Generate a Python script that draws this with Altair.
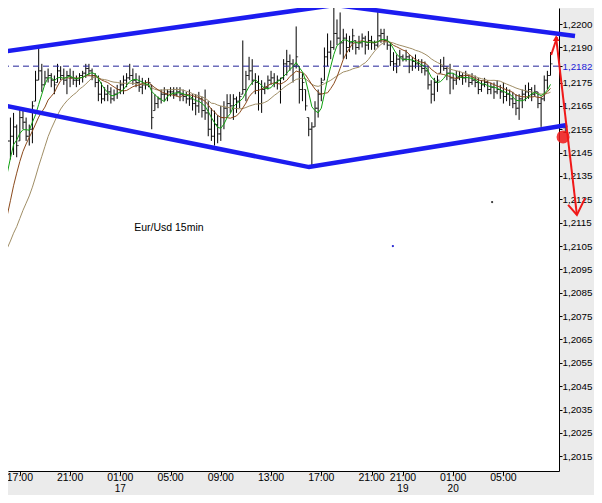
import altair as alt
import pandas as pd

# ---------------- data (EUR/USD, 15 min bars) ----------------
highs = [1.2140,1.2150,1.2162,1.2160,1.2162,1.2157,1.2164,1.2163,1.2160,1.2157,
         1.2167,1.2180,1.2190,1.2183,1.2180,1.2181,1.2179,1.2178,1.2183,1.2182,
         1.2181,1.2180,1.2181,1.2180,1.2178,1.2179,1.2180,1.2183,1.2183,1.2181,
         1.2179,1.2178,1.2175,1.2173,1.2174,1.2173,1.2172,1.2174,1.2176,1.2178,
         1.2179,1.2183,1.2181,1.2179,1.2178,1.2177,1.2176,1.2177,1.2174,1.2170,
         1.2169,1.2172,1.2173,1.2172,1.2173,1.2173,1.2173,1.2173,1.2172,1.2171,
         1.2172,1.2170,1.2170,1.2171,1.2169,1.2172,1.2167,1.2164,1.2163,1.2161,
         1.2165,1.2167,1.2170,1.2170,1.2170,1.2169,1.2171,1.2193,1.2180,1.2186,
         1.2185,1.2179,1.2178,1.2176,1.2175,1.2178,1.2180,1.2179,1.2178,1.2177,
         1.2185,1.2189,1.2187,1.2185,1.2199,1.2182,1.2179,1.2172,1.2160,1.2158,
         1.2167,1.2172,1.2177,1.2190,1.2196,1.2193,1.2207,1.2202,1.2205,1.2198,
         1.2196,1.2195,1.2198,1.2193,1.2195,1.2196,1.2195,1.2197,1.2195,1.2193,
         1.2206,1.2198,1.2198,1.2195,1.2192,1.2188,1.2187,1.2189,1.2187,1.2189,
         1.2187,1.2186,1.2187,1.2185,1.2185,1.2184,1.2182,1.2176,1.2177,1.2178,
         1.2185,1.2186,1.2182,1.2183,1.2179,1.2180,1.2180,1.2179,1.2180,1.2178,
         1.2179,1.2178,1.2177,1.2176,1.2177,1.2176,1.2175,1.2175,1.2176,1.2174,
         1.2175,1.2173,1.2172,1.2171,1.2170,1.2170,1.2172,1.2174,1.2175,1.2173,
         1.2174,1.2171,1.2169,1.2178,1.2180,1.2188]
lows = [1.2123,1.2129,1.2135,1.2142,1.2144,1.2143,1.2150,1.2155,1.2150,1.2148,
        1.2149,1.2167,1.2176,1.2171,1.2174,1.2175,1.2173,1.2170,1.2175,1.2176,
        1.2174,1.2170,1.2173,1.2174,1.2173,1.2174,1.2175,1.2177,1.2178,1.2176,
        1.2173,1.2167,1.2166,1.2167,1.2167,1.2166,1.2167,1.2168,1.2170,1.2170,
        1.2173,1.2176,1.2174,1.2173,1.2171,1.2170,1.2172,1.2173,1.2155,1.2163,
        1.2164,1.2166,1.2167,1.2167,1.2169,1.2168,1.2169,1.2167,1.2167,1.2166,
        1.2165,1.2163,1.2161,1.2162,1.2160,1.2159,1.2152,1.2150,1.2148,1.2149,
        1.2150,1.2155,1.2160,1.2162,1.2159,1.2162,1.2164,1.2170,1.2167,1.2176,
        1.2174,1.2170,1.2163,1.2162,1.2170,1.2172,1.2174,1.2173,1.2172,1.2166,
        1.2176,1.2178,1.2180,1.2175,1.2181,1.2166,1.2167,1.2163,1.2152,1.2139,
        1.2156,1.2160,1.2167,1.2176,1.2182,1.2185,1.2189,1.2191,1.2187,1.2185,
        1.2185,1.2188,1.2189,1.2187,1.2189,1.2190,1.2187,1.2189,1.2189,1.2189,
        1.2190,1.2192,1.2191,1.2189,1.2182,1.2180,1.2179,1.2182,1.2184,1.2184,
        1.2179,1.2180,1.2181,1.2180,1.2179,1.2178,1.2172,1.2166,1.2167,1.2171,
        1.2179,1.2180,1.2176,1.2170,1.2172,1.2174,1.2176,1.2174,1.2175,1.2173,
        1.2174,1.2173,1.2170,1.2171,1.2173,1.2170,1.2170,1.2168,1.2170,1.2168,
        1.2166,1.2167,1.2165,1.2164,1.2161,1.2159,1.2164,1.2167,1.2168,1.2167,
        1.2169,1.2164,1.2156,1.2167,1.2172,1.2178]
opens = [1.2125,1.2138,1.2146,1.2150,1.2152,1.2156,1.2150,1.2160,1.2158,1.2152,
         1.2155,1.2167,1.2176,1.2180,1.2174,1.2177,1.2178,1.2176,1.2175,1.2180,
         1.2178,1.2176,1.2178,1.2177,1.2176,1.2176,1.2178,1.2179,1.2181,1.2180,
         1.2178,1.2175,1.2170,1.2168,1.2170,1.2171,1.2168,1.2170,1.2172,1.2174,
         1.2176,1.2177,1.2178,1.2176,1.2175,1.2173,1.2174,1.2174,1.2174,1.2163,
         1.2166,1.2168,1.2170,1.2170,1.2171,1.2171,1.2170,1.2171,1.2170,1.2169,
         1.2168,1.2168,1.2166,1.2165,1.2168,1.2163,1.2162,1.2155,1.2152,1.2157,
         1.2153,1.2160,1.2164,1.2166,1.2165,1.2168,1.2167,1.2170,1.2172,1.2178,
         1.2180,1.2176,1.2175,1.2166,1.2172,1.2173,1.2176,1.2177,1.2175,1.2176,
         1.2177,1.2183,1.2184,1.2183,1.2182,1.2182,1.2172,1.2172,1.2160,1.2155,
         1.2156,1.2164,1.2170,1.2176,1.2186,1.2188,1.2190,1.2196,1.2194,1.2192,
         1.2194,1.2190,1.2192,1.2193,1.2190,1.2192,1.2194,1.2191,1.2193,1.2192,
         1.2191,1.2195,1.2196,1.2193,1.2191,1.2184,1.2183,1.2185,1.2186,1.2185,
         1.2186,1.2182,1.2184,1.2183,1.2182,1.2181,1.2180,1.2174,1.2170,1.2175,
         1.2179,1.2182,1.2181,1.2179,1.2177,1.2176,1.2177,1.2178,1.2177,1.2178,
         1.2175,1.2176,1.2175,1.2172,1.2174,1.2175,1.2172,1.2173,1.2171,1.2172,
         1.2171,1.2169,1.2170,1.2168,1.2166,1.2164,1.2168,1.2170,1.2171,1.2172,
         1.2170,1.2171,1.2166,1.2168,1.2176,1.2178]
closes = [1.2138,1.2146,1.2150,1.2152,1.2156,1.2148,1.2160,1.2158,1.2152,1.2155,
          1.2165,1.2176,1.2180,1.2174,1.2177,1.2178,1.2176,1.2174,1.2180,1.2178,
          1.2176,1.2178,1.2177,1.2176,1.2176,1.2178,1.2179,1.2181,1.2180,1.2178,
          1.2175,1.2170,1.2168,1.2170,1.2171,1.2168,1.2170,1.2172,1.2174,1.2176,
          1.2177,1.2178,1.2176,1.2175,1.2173,1.2174,1.2174,1.2175,1.2160,1.2166,
          1.2168,1.2170,1.2170,1.2171,1.2171,1.2170,1.2171,1.2170,1.2169,1.2168,
          1.2168,1.2166,1.2165,1.2168,1.2163,1.2162,1.2155,1.2152,1.2157,1.2153,
          1.2160,1.2164,1.2166,1.2165,1.2168,1.2167,1.2169,1.2172,1.2178,1.2180,
          1.2176,1.2175,1.2166,1.2172,1.2173,1.2176,1.2177,1.2175,1.2176,1.2177,
          1.2183,1.2184,1.2183,1.2182,1.2186,1.2172,1.2175,1.2165,1.2155,1.2156,
          1.2164,1.2170,1.2175,1.2186,1.2188,1.2190,1.2196,1.2194,1.2192,1.2194,
          1.2190,1.2192,1.2195,1.2190,1.2192,1.2194,1.2191,1.2193,1.2192,1.2191,
          1.2195,1.2196,1.2193,1.2191,1.2184,1.2183,1.2185,1.2186,1.2185,1.2186,
          1.2182,1.2184,1.2183,1.2182,1.2181,1.2180,1.2174,1.2170,1.2175,1.2176,
          1.2182,1.2181,1.2179,1.2177,1.2176,1.2177,1.2178,1.2177,1.2178,1.2175,
          1.2176,1.2175,1.2172,1.2174,1.2175,1.2172,1.2173,1.2171,1.2172,1.2171,
          1.2169,1.2170,1.2168,1.2166,1.2164,1.2168,1.2170,1.2171,1.2172,1.2170,
          1.2171,1.2166,1.2168,1.2176,1.2178,1.2183]
# closes of the bars just before the visible window (they only feed the moving averages)
pre_closes = [1.2086,1.2088,1.2091,1.2089,1.2092,1.2090,1.2088,1.2091,1.2093,1.2090,
              1.2089,1.2087,1.2090,1.2092,1.2094,1.2110,1.2115,1.2120,1.2127]

time_idx = [6, 22, 38, 54, 70, 86, 102, 118, 128, 144, 160]
time_lbl = ["17:00", "21:00", "01:00", "05:00", "09:00", "13:00", "17:00", "21:00", "21:00", "01:00", "05:00"]
date_idx = [38, 128, 144]
date_lbl = ["17", "19", "20"]

price_ticks = [1.2015, 1.2025, 1.2035, 1.2045, 1.2055, 1.2065, 1.2075, 1.2085, 1.2095,
               1.2105, 1.2115, 1.2125, 1.2135, 1.2145, 1.2155, 1.2165, 1.2175,
               1.2182, 1.2190, 1.2200]
last_price = 1.2182

# hand-drawn annotations (bar index, price)
upper_line_i = [-0.3, 106.4, 182.8]
upper_line_p = [1.21880, 1.22082, 1.21949]
lower_line_i = [1.9, 98.1, 180.3]
lower_line_p = [1.21649, 1.21388, 1.21568]
arrow_seg = ["main", "main", "head", "head", "head", "up", "up"]
arrow_i = [176.8, 183.4, 180.6, 183.4, 186.0, 175.2, 177.1]
arrow_p = [1.21940, 1.21183, 1.21226, 1.21183, 1.21255, 1.21868, 1.21945]
blob_i, blob_p = 179.0, 1.21517
label_text, label_i, label_p = "Eur/Usd 15min", 42.4, 1.21127
dot_i = [124.8, 156.4]
dot_p = [1.21050, 1.21238]
dot_c = ["#2020d0", "#333333"]

# ---------------- chart ----------------
n = len(closes)
bars = pd.DataFrame({"i": list(range(n)), "open": opens, "high": highs, "low": lows, "close": closes})
ma_df = pd.DataFrame({"i": list(range(-len(pre_closes), 0)) + list(range(n)),
                      "close": pre_closes + closes})

FONT = "Liberation Sans"
xscale = alt.Scale(domain=[2.229, 177.7], nice=False, zero=False)
yscale = alt.Scale(domain=[1.20087, 1.22069], nice=False, zero=False)
xaxis = alt.Axis(values=time_idx, labels=False, ticks=True, tickSize=4, tickColor="black",
                 domainColor="black", grid=False, title=None)
yaxis = alt.Axis(orient="right", values=price_ticks,
                 labelExpr="replace(format(datum.value, '.4f'), '.', ',')",
                 labelColor={"condition": {"test": "datum.value == 1.2182", "value": "#1a1ad8"},
                             "value": "black"},
                 labelFont=FONT, labelFontSize=9.8, labelPadding=0, tickSize=3,
                 tickColor="black", domainColor="black", grid=False, labelOverlap=False,
                 labelFlush=False, title=None)


def X(field="i"):
    return alt.X(f"{field}:Q", scale=xscale, axis=xaxis, title=None)


def Y(field):
    return alt.Y(f"{field}:Q", scale=yscale, axis=yaxis, title=None)


base = alt.Chart(bars)
hl = base.mark_rule(color="black", strokeWidth=1).encode(x=X(), y=Y("low"), y2="high:Q")
op = base.mark_tick(orient="horizontal", size=2, thickness=1, xOffset=-1, color="black").encode(x=X(), y=Y("open"))
cl = base.mark_tick(orient="horizontal", size=2, thickness=1, xOffset=1, color="black").encode(x=X(), y=Y("close"))


def ma(period, color):
    return (alt.Chart(ma_df)
            .transform_window(ma="mean(close)", frame=[-(period - 1), 0], sort=[alt.SortField("i")])
            .mark_line(color=color, strokeWidth=1)
            .encode(x=X(), y=Y("ma")))


ma20 = ma(20, "#a08e66")
ma10 = ma(10, "#8b4a1c")
ma5 = ma(5, "#10a010")

last_rule = alt.Chart(pd.DataFrame({"p": [last_price]})).mark_rule(
    color="#22229a", strokeDash=[6, 4], strokeWidth=1).encode(y=Y("p"))

tl = pd.concat([
    pd.DataFrame({"i": upper_line_i, "p": upper_line_p, "g": "upper"}),
    pd.DataFrame({"i": lower_line_i, "p": lower_line_p, "g": "lower"}),
])
trend = alt.Chart(tl).mark_line(color="#1c1cf0", strokeWidth=4.5).encode(
    x=X(), y=Y("p"), detail="g:N")

arr = pd.DataFrame({"i": arrow_i, "p": arrow_p, "g": arrow_seg, "o": list(range(len(arrow_i)))})
arrow = alt.Chart(arr).mark_line(color="#f01818", strokeWidth=2).encode(
    x=X(), y=Y("p"), detail="g:N", order="o:Q")
arrow_top = alt.Chart(pd.DataFrame({"i": [arrow_i[0]], "p": [arrow_p[0]]})).mark_point(
    shape="triangle-up", filled=True, size=45, color="#f01818", opacity=1).encode(x=X(), y=Y("p"))
blob = alt.Chart(pd.DataFrame({"i": [blob_i], "p": [blob_p]})).mark_point(
    shape="circle", filled=True, size=170, color="#f01818", opacity=0.85).encode(x=X(), y=Y("p"))

dots = alt.Chart(pd.DataFrame({"i": dot_i, "p": dot_p, "c": dot_c})).mark_point(
    shape="circle", filled=True, size=5, opacity=1).encode(
    x=X(), y=Y("p"), color=alt.Color("c:N", scale=None))

label = alt.Chart(pd.DataFrame({"i": [label_i], "p": [label_p], "t": [label_text]})).mark_text(
    align="left", baseline="middle", font=FONT, fontSize=10.5, color="black").encode(
    x=X(), y=Y("p"), text="t:N")

tdf = pd.DataFrame({"i": time_idx, "t": time_lbl})
tlabels = alt.Chart(tdf).mark_text(align="center", baseline="middle", font=FONT,
                                   fontSize=10.5, color="black").encode(
    x=X(), y=alt.value(470), text="t:N")
ddf = pd.DataFrame({"i": date_idx, "t": date_lbl})
dlabels = alt.Chart(ddf).mark_text(align="center", baseline="middle", font=FONT,
                                   fontSize=10, color="black").encode(
    x=X(), y=alt.value(480.5), text="t:N")

chart = (alt.layer(hl, op, cl, ma20, ma10, ma5, last_rule, trend, arrow, arrow_top, blob,
                   dots, label, tlabels, dlabels)
         .properties(width=551, height=463,
                     autosize=alt.AutoSizeParams(type="none"),
                     padding={"left": 0, "top": 0, "right": 35, "bottom": 24})
         .configure(background="#ebebeb")
         .configure_view(fill="white", stroke=None))

chart.save("out.html", embed_options={"renderer": "svg", "actions": False})
